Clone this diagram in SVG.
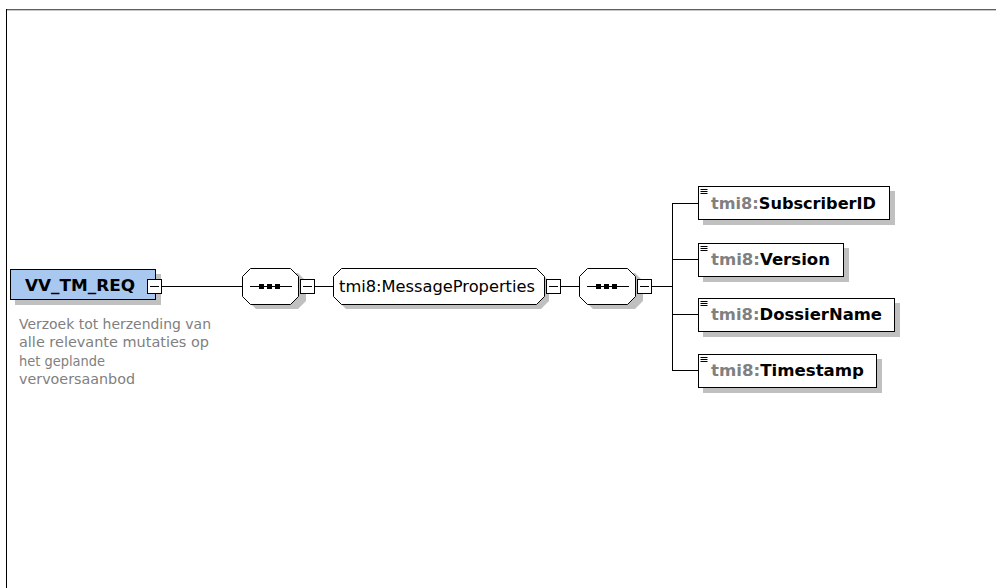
<svg xmlns="http://www.w3.org/2000/svg" width="996" height="588" viewBox="0 0 996 588">
<style>
.shadow{fill:#c0c0c0;stroke:none}
.box{fill:#fff;stroke:#000;stroke-width:1}
.root{fill:#a8c8f0;stroke:#000;stroke-width:1}
.conn{stroke:#000;stroke-width:1;fill:none}
.minus{fill:#fff;stroke:#000;stroke-width:1}
.lbl{font-family:"DejaVu Sans","Liberation Sans",sans-serif;font-size:15px;font-weight:bold;fill:#000}
.pre{fill:#808080}
.desc{font-family:"DejaVu Sans","Liberation Sans",sans-serif;font-size:13.5px;fill:#808080}
.mp{font-family:"DejaVu Sans","Liberation Sans",sans-serif;font-size:15px;fill:#000}
</style>
<defs>
<g id="mbox"><rect class="minus" x="0.5" y="0.5" width="14" height="14"/><line class="conn" x1="3" y1="7.5" x2="12" y2="7.5"/></g>
<g id="icon"><path d="M2.5 3.5h7M2.5 5.5h7M2.5 7.5h7" stroke="#000" stroke-width="1"/></g>
</defs>
<rect x="0" y="0" width="996" height="588" fill="#fff"/>
<line x1="6" y1="9.5" x2="996" y2="9.5" stroke="#606060"/>
<line x1="6" y1="10.5" x2="996" y2="10.5" stroke="#c8c8c8"/>
<line x1="6.5" y1="9" x2="6.5" y2="588" stroke="#000"/>

<g id="connectors">
<line class="conn" x1="162" y1="286.5" x2="242" y2="286.5"/>
<line class="conn" x1="315" y1="286.5" x2="334" y2="286.5"/>
<line class="conn" x1="560" y1="286.5" x2="580" y2="286.5"/>
<line class="conn" x1="651" y1="286.5" x2="672" y2="286.5"/>
<line class="conn" x1="672.5" y1="203" x2="672.5" y2="371"/>
<line class="conn" x1="672" y1="203.5" x2="698" y2="203.5"/>
<line class="conn" x1="672" y1="259.5" x2="698" y2="259.5"/>
<line class="conn" x1="672" y1="314.5" x2="698" y2="314.5"/>
<line class="conn" x1="672" y1="370.5" x2="698" y2="370.5"/>
</g>

<g id="VV_TM_REQ">
<rect class="shadow" x="15" y="274" width="146" height="31"/>
<rect class="root" x="10.5" y="269.5" width="145" height="30"/>
<text class="lbl" x="25" y="291" textLength="110" lengthAdjust="spacingAndGlyphs">VV_TM_REQ</text>
<use href="#mbox" x="147" y="279"/>
<text class="desc" x="19" y="329" textLength="192" lengthAdjust="spacingAndGlyphs">Verzoek tot herzending van</text>
<text class="desc" x="19" y="347" textLength="190" lengthAdjust="spacingAndGlyphs">alle relevante mutaties op</text>
<text class="desc" x="19" y="366" textLength="86" lengthAdjust="spacingAndGlyphs">het geplande</text>
<text class="desc" x="19" y="384" textLength="116" lengthAdjust="spacingAndGlyphs">vervoersaanbod</text>
</g>

<g id="seq1">
<path class="shadow" d="M256 273h42l8 8v20l-8 8h-42l-8 -8v-20z"/>
<path class="box" d="M250.5 268.5h40l8 8v20l-8 8h-40l-8 -8v-20z"/>
<line class="conn" x1="250" y1="286.5" x2="292" y2="286.5"/>
<rect x="259" y="284" width="5" height="5" fill="#000"/>
<rect x="267" y="284" width="5" height="5" fill="#000"/>
<rect x="275" y="284" width="5" height="5" fill="#000"/>
<use href="#mbox" x="300" y="279"/>
</g>

<g id="MessageProperties">
<path class="shadow" d="M346 273h195l8 8v20l-8 8h-195l-8 -8v-20z"/>
<path class="box" d="M341.5 268.5h195l8 8v20l-8 8h-195l-8 -8v-20z"/>
<text class="mp" x="339" y="292" textLength="196" lengthAdjust="spacingAndGlyphs">tmi8:MessageProperties</text>
<use href="#mbox" x="546" y="279"/>
</g>

<g id="seq2">
<path class="shadow" d="M593 273h42l8 8v20l-8 8h-42l-8 -8v-20z"/>
<path class="box" d="M587.5 268.5h40l8 8v20l-8 8h-40l-8 -8v-20z"/>
<line class="conn" x1="587" y1="286.5" x2="629" y2="286.5"/>
<rect x="596" y="284" width="5" height="5" fill="#000"/>
<rect x="604" y="284" width="5" height="5" fill="#000"/>
<rect x="612" y="284" width="5" height="5" fill="#000"/>
<use href="#mbox" x="637" y="279"/>
</g>

<g id="SubscriberID">
<rect class="shadow" x="703" y="191" width="192" height="34"/>
<rect class="box" x="698.5" y="186.5" width="191" height="33"/>
<use href="#icon" x="698" y="186"/>
<text class="lbl" x="711" y="209" textLength="165" lengthAdjust="spacingAndGlyphs"><tspan class="pre">tmi8:</tspan>SubscriberID</text>
</g>

<g id="Version">
<rect class="shadow" x="703" y="248" width="146" height="34"/>
<rect class="box" x="698.5" y="243.5" width="145" height="33"/>
<use href="#icon" x="698" y="243"/>
<text class="lbl" x="711" y="265" textLength="119" lengthAdjust="spacingAndGlyphs"><tspan class="pre">tmi8:</tspan>Version</text>
</g>

<g id="DossierName">
<rect class="shadow" x="703" y="303" width="197" height="34"/>
<rect class="box" x="698.5" y="298.5" width="196" height="33"/>
<use href="#icon" x="698" y="298"/>
<text class="lbl" x="711" y="320" textLength="171" lengthAdjust="spacingAndGlyphs"><tspan class="pre">tmi8:</tspan>DossierName</text>
</g>

<g id="Timestamp">
<rect class="shadow" x="703" y="359" width="179" height="34"/>
<rect class="box" x="698.5" y="354.5" width="178" height="33"/>
<use href="#icon" x="698" y="354"/>
<text class="lbl" x="711" y="376" textLength="153" lengthAdjust="spacingAndGlyphs"><tspan class="pre">tmi8:</tspan>Timestamp</text>
</g>
</svg>
